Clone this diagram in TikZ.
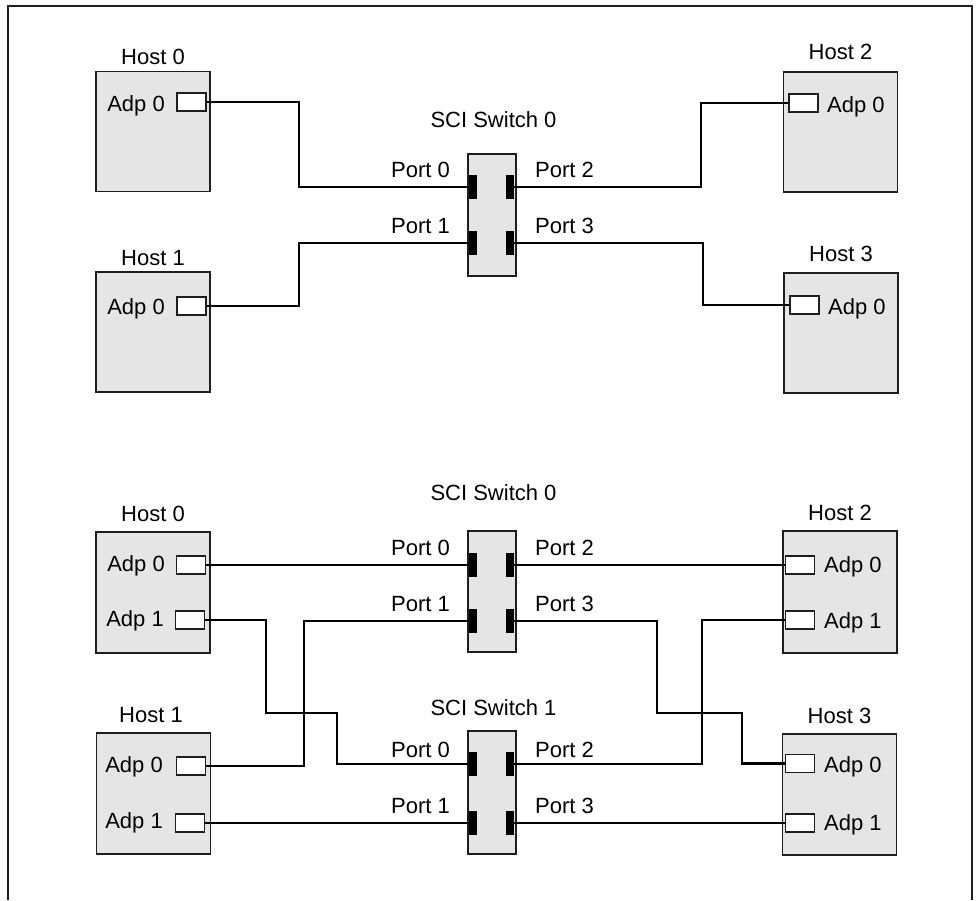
\documentclass[tikz,border=0pt]{standalone}
\usepackage{fontspec}
\setmainfont{Liberation Sans}
\definecolor{hostgray}{RGB}{229,229,229}
\definecolor{edgegray}{RGB}{30,30,30}
\begin{document}
\begin{tikzpicture}[x=1pt,y=-1pt,
  every node/.style={font=\fontsize{22}{24}\selectfont, inner sep=0pt},
  host/.style={draw=edgegray, line width=1.4pt, fill=hostgray, minimum width=114pt, minimum height=120pt},
  adp/.style={draw=edgegray, line width=1.3pt, fill=white, minimum width=29pt, minimum height=18pt},
  switchbox/.style={draw=edgegray, line width=1.4pt, fill=hostgray, minimum width=48pt, minimum height=122pt},
  portblk/.style={fill=black, minimum width=8pt, minimum height=24pt},
  wire/.style={line width=2.6pt, black},
  lbl/.style={anchor=base},
  lbll/.style={anchor=base east},
  lblr/.style={anchor=base west},
  frame/.style={line width=1.8pt, edgegray}
]
\useasboundingbox (0,0) rectangle (979,900);
\coordinate (f1) at (8,900);
\coordinate (f2) at (8,6);
\coordinate (f3) at (972,6);
\coordinate (f4) at (972,900);
\draw[frame] (f1) -- (f2) -- (f3) -- (f4);

% ---------------- top section ----------------
\node[host] (th0) at (153,131.5) {};
\node[lbl] (th0l) at (153,64) {Host 0};
\node[lbll] (th0t) at (165,111) {Adp 0};
\node[adp] (t0a) at (191.5,102) {};

\node[host] (th1) at (153,332) {};
\node[lbl] (th1l) at (153,265) {Host 1};
\node[lbll] (th1t) at (165,314) {Adp 0};
\node[adp] (t1a) at (191.5,306) {};

\node[host] (th2) at (840.5,132) {};
\node[lbl] (th2l) at (840.5,59) {Host 2};
\node[lblr] (th2t) at (827,112) {Adp 0};
\node[adp] (t2a) at (803.5,103) {};

\node[host] (th3) at (841,333) {};
\node[lbl] (th3l) at (841,261) {Host 3};
\node[lblr] (th3t) at (828,314) {Adp 0};
\node[adp] (t3a) at (804.5,305) {};

\node[switchbox] (ts0) at (492,215) {};
\node[lbl] (ts0l) at (493.5,127) {SCI Switch 0};
\node[portblk] (s0p0) at (473,187) {};
\node[portblk] (s0p1) at (473,243) {};
\node[portblk] (s0p2) at (510,187) {};
\node[portblk] (s0p3) at (510,243) {};
\node[lbll] (s0l0) at (450,177) {Port 0};
\node[lbll] (s0l1) at (450,233) {Port 1};
\node[lblr] (s0l2) at (535,177) {Port 2};
\node[lblr] (s0l3) at (535,233) {Port 3};

\coordinate (k1) at (299,0);
\coordinate (k2) at (701,0);
\coordinate (k3) at (703,0);
\draw[wire] (t0a.east) -| (k1 |- s0p0.west) -- (s0p0.west);
\draw[wire] (t1a.east) -| (k1 |- s0p1.west) -- (s0p1.west);
\draw[wire] (s0p2.east) -| (k2 |- t2a.west) -- (t2a.west);
\draw[wire] (s0p3.east) -| (k3 |- t3a.west) -- (t3a.west);

% ---------------- bottom section ----------------
\node[host, minimum height=121pt] (bh0) at (153,592.5) {};
\node[lbl] (bh0l) at (153,521) {Host 0};
\node[lbll] (bh0t0) at (165,571) {Adp 0};
\node[lbll] (bh0t1) at (164,626) {Adp 1};
\node[adp] (b0a0) at (191,565) {};
\node[adp] (b0a1) at (190,620) {};

\node[host, minimum height=121pt] (bh1) at (153.5,793.5) {};
\node[lbl] (bh1l) at (151,722) {Host 1};
\node[lbll] (bh1t0) at (163,772) {Adp 0};
\node[lbll] (bh1t1) at (163,828) {Adp 1};
\node[adp] (b1a0) at (191,766) {};
\node[adp] (b1a1) at (190,823) {};

\node[host, minimum height=122pt] (bh2) at (840,592) {};
\node[lbl] (bh2l) at (840,520) {Host 2};
\node[lblr] (bh2t0) at (824,572) {Adp 0};
\node[lblr] (bh2t1) at (824,628) {Adp 1};
\node[adp] (b2a0) at (800,565) {};
\node[adp] (b2a1) at (800,620) {};

\node[host, minimum height=121pt] (bh3) at (839.5,794.5) {};
\node[lbl] (bh3l) at (839.5,723) {Host 3};
\node[lblr] (bh3t0) at (824,772) {Adp 0};
\node[lblr] (bh3t1) at (824,830) {Adp 1};
\node[adp] (b3a0) at (800,763.5) {};
\node[adp] (b3a1) at (800,823) {};

\node[switchbox, minimum height=121pt] (bs0) at (492,591.5) {};
\node[lbl] (bs0l) at (493.5,500) {SCI Switch 0};
\node[portblk] (u0p0) at (473,565) {};
\node[portblk] (u0p1) at (473,621) {};
\node[portblk] (u0p2) at (510,565) {};
\node[portblk] (u0p3) at (510,621) {};
\node[lbll] (u0l0) at (450,555) {Port 0};
\node[lbll] (u0l1) at (450,611) {Port 1};
\node[lblr] (u0l2) at (535,555) {Port 2};
\node[lblr] (u0l3) at (535,611) {Port 3};

\node[switchbox, minimum height=123pt] (bs1) at (492,792.5) {};
\node[lbl] (bs1l) at (493.5,715) {SCI Switch 1};
\node[portblk] (v1p0) at (473,764) {};
\node[portblk] (v1p1) at (473,823) {};
\node[portblk] (v1p2) at (510,764) {};
\node[portblk] (v1p3) at (510,823) {};
\node[lbll] (v1l0) at (450,757) {Port 0};
\node[lbll] (v1l1) at (450,813) {Port 1};
\node[lblr] (v1l2) at (535,757) {Port 2};
\node[lblr] (v1l3) at (535,813) {Port 3};

\coordinate (c1) at (266,713);
\coordinate (c2) at (337,713);
\coordinate (c3) at (304,0);
\coordinate (c4) at (657,713);
\coordinate (c5) at (742,713);
\coordinate (c6) at (702,0);

\draw[wire] (b0a0.east) -- (u0p0.west);
\draw[wire] (b0a1.east) -| (c1) -| (c2 |- v1p0.west) -- (v1p0.west);
\draw[wire] (b1a0.east) -| (c3 |- u0p1.west) -- (u0p1.west);
\draw[wire] (b1a1.east) -- (v1p1.west);
\draw[wire] (u0p2.east) -- (b2a0.west);
\draw[wire] (u0p3.east) -| (c4) -| (c5 |- b3a0.west) -- (b3a0.west);
\draw[wire] (v1p2.east) -| (c6 |- b2a1.west) -- (b2a1.west);
\draw[wire] (v1p3.east) -- (b3a1.west);
\end{tikzpicture}
\end{document}
